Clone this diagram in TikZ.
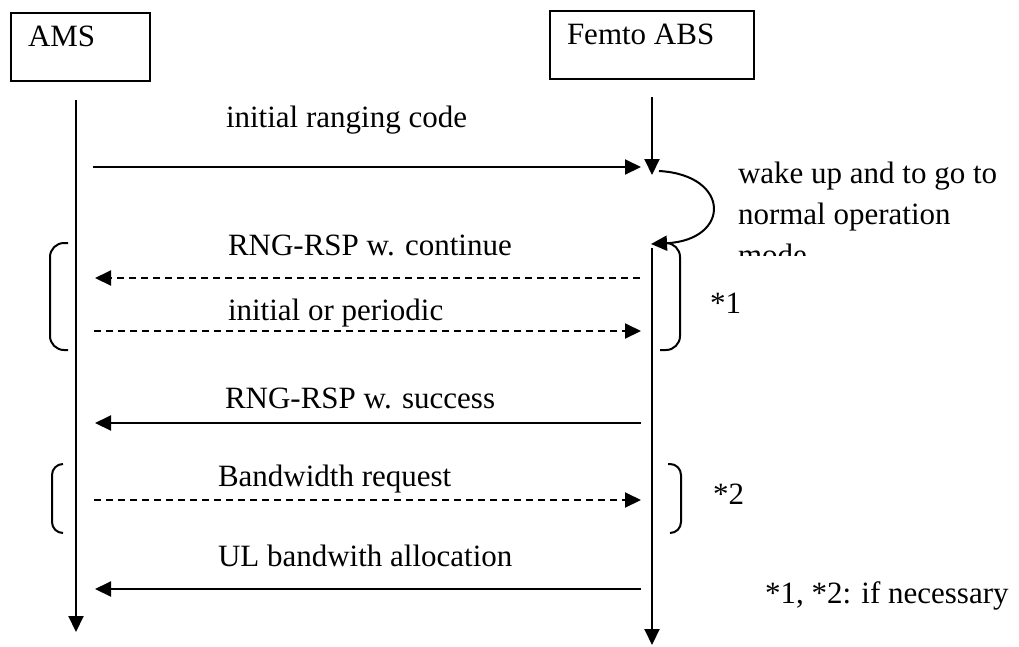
\documentclass[tikz,border=0pt]{standalone}
\usepackage{fontspec}
\setmainfont{Liberation Serif}
\usetikzlibrary{arrows.meta}
\begin{document}
\begin{tikzpicture}[x=1pt,y=-1pt,
  every node/.style={inner sep=0pt,outer sep=0pt,font=\fontsize{31}{41}\selectfont},
  boxnode/.style={draw,line width=2pt,anchor=north west},
  lbl/.style={anchor=base west},
  msg/.style={line width=2pt,-{Triangle[length=16pt,width=15pt]}},
  dmsg/.style={msg,dash pattern=on 7pt off 5pt},
  brk/.style={line width=2pt,rounded corners=14pt}]
\useasboundingbox (0,0) rectangle (1019,646);
% boxes
\node[boxnode,minimum width=139pt,minimum height=68pt] (ams) at (11,13) {};
\node[lbl] (amst) at (28,46) {AMS};
\node[boxnode,minimum width=204pt,minimum height=68pt] (abs) at (550,11) {};
\node[lbl] (abst) at (567,44) {Femto ABS};
% lifelines
\coordinate (a0) at (76,100);
\coordinate (a1) at (76,632);
\coordinate (f0) at (652,97);
\coordinate (f1) at (652,175);
\coordinate (f2) at (652,248);
\coordinate (f3) at (652,645);
\draw[msg] (a0) -- (a1);
\draw[msg] (f0) -- (f1);
\draw[msg] (f2) -- (f3);
% curved arrow
\coordinate (c0) at (659,171);
\coordinate (c1) at (651,244);
\draw[msg] (c0) .. controls (731,175) and (731,240) .. (c1);
\begin{scope}
\clip (700,140) rectangle (1019,255);
\node[lbl,align=left,anchor=north west] (wake) at (738,162) {wake up and to go to\\normal operation\\mode};
\end{scope}
% messages
\coordinate (m1a) at (93,167); \coordinate (m1b) at (641,167);
\draw[msg] (m1a) -- (m1b);
\node[lbl] (t1) at (226,127) {initial ranging code};
\coordinate (m2a) at (640,278); \coordinate (m2b) at (95,278);
\draw[dmsg] (m2a) -- (m2b);
\node[lbl] (t2) at (228,255) {RNG-RSP w. continue};
\coordinate (m3a) at (94,331); \coordinate (m3b) at (641,331);
\draw[dmsg] (m3a) -- (m3b);
\node[lbl] (t3) at (228,320) {initial or periodic};
\coordinate (m4a) at (641,423); \coordinate (m4b) at (95,423);
\draw[msg] (m4a) -- (m4b);
\node[lbl] (t4) at (225,408) {RNG-RSP w. success};
\coordinate (m5a) at (94,500); \coordinate (m5b) at (641,500);
\draw[dmsg] (m5a) -- (m5b);
\node[lbl] (t5) at (218,486) {Bandwidth request};
\coordinate (m6a) at (641,589); \coordinate (m6b) at (95,589);
\draw[msg] (m6a) -- (m6b);
\node[lbl] (t6) at (218,566) {UL bandwith allocation};
% brackets
\coordinate (b1a) at (68,243); \coordinate (b1b) at (50,243); \coordinate (b1c) at (50,350); \coordinate (b1d) at (68,350);
\draw[brk] (b1a) -- (b1b) -- (b1c) -- (b1d);
\coordinate (b2a) at (662,243); \coordinate (b2b) at (680,243); \coordinate (b2c) at (680,350); \coordinate (b2d) at (660,350);
\draw[brk] (b2a) -- (b2b) -- (b2c) -- (b2d);
\coordinate (b3a) at (63,464); \coordinate (b3b) at (52,464); \coordinate (b3c) at (52,533); \coordinate (b3d) at (63,533);
\draw[brk,rounded corners=11pt] (b3a) -- (b3b) -- (b3c) -- (b3d);
\coordinate (b4a) at (668,464); \coordinate (b4b) at (681,464); \coordinate (b4c) at (681,533); \coordinate (b4d) at (670,533);
\draw[brk,rounded corners=11pt] (b4a) -- (b4b) -- (b4c) -- (b4d);
\node[lbl] (s1) at (710,313) {*1};
\node[lbl] (s2) at (713,504) {*2};
\node[lbl] (note) at (765,603) {*1, *2: if necessary};
\end{tikzpicture}
\end{document}
